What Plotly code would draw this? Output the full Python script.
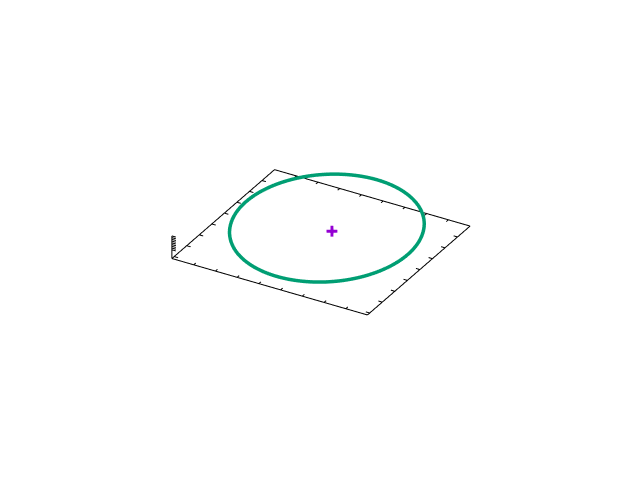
import numpy as np
import plotly.graph_objects as go

# ---- data ----
X_RANGE = [-1.25, 1.0]
Y_RANGE = [-1.045, 1.0]
Z_RANGE = [-0.08, 0.08]
Z_BASE = -0.18
XY_TICK_STEP = 0.25
Z_TICK_STEP = 0.02

CIRCLE_CENTER = [-0.06, -0.018, 0.0]
CIRCLE_RADIUS = 0.97
CIRCLE_TILT = [0.0133, 0.078]   # dz/dx, dz/dy of the circle's plane

POINT_X = [0.012]
POINT_Y = [-0.045]
POINT_Z = [0.0]

GREEN = "#009e73"
PURPLE = "#9400d3"

t = np.linspace(0, 2 * np.pi, 241)
cx = CIRCLE_CENTER[0] + CIRCLE_RADIUS * np.cos(t)
cy = CIRCLE_CENTER[1] + CIRCLE_RADIUS * np.sin(t)
cz = CIRCLE_CENTER[2] + CIRCLE_TILT[0] * (cx - CIRCLE_CENTER[0]) + CIRCLE_TILT[1] * (cy - CIRCLE_CENTER[1])

x0, x1 = X_RANGE
y0, y1 = Y_RANGE
z0, z1 = Z_RANGE

def ticks(a, b, step):
    first = np.ceil(a / step - 1e-9) * step
    return np.arange(first, b + 1e-9, step)

xt = ticks(x0, x1, XY_TICK_STEP)
yt = ticks(y0, y1, XY_TICK_STEP)
zt = ticks(z0, z1, Z_TICK_STEP)
lx = 0.02 * (x1 - x0)
ly = 0.02 * (y1 - y0)

fx, fy, fz = [], [], []
def seg(a, b):
    fx.extend([a[0], b[0], None]); fy.extend([a[1], b[1], None]); fz.extend([a[2], b[2], None])

# base frame
seg((x0, y0, Z_BASE), (x1, y0, Z_BASE))
seg((x1, y0, Z_BASE), (x1, y1, Z_BASE))
seg((x1, y1, Z_BASE), (x0, y1, Z_BASE))
seg((x0, y1, Z_BASE), (x0, y0, Z_BASE))
# z axis line
seg((x0, y0, Z_BASE), (x0, y0, z1))
for v in xt:
    seg((v, y0, Z_BASE), (v, y0 + ly, Z_BASE))
    seg((v, y1, Z_BASE), (v, y1 - ly, Z_BASE))
for v in yt:
    seg((x0, v, Z_BASE), (x0 + lx, v, Z_BASE))
    seg((x1, v, Z_BASE), (x1 - lx, v, Z_BASE))
for v in zt:
    seg((x0, y0, v), (x0 + lx, y0, v))

fig = go.Figure()
fig.add_trace(go.Scatter3d(x=fx, y=fy, z=fz, mode="lines",
                           line=dict(color="black", width=2), hoverinfo="skip"))
fig.add_trace(go.Scatter3d(x=cx, y=cy, z=cz, mode="lines",
                           line=dict(color=GREEN, width=7)))
fig.add_trace(go.Scatter3d(x=POINT_X, y=POINT_Y, z=POINT_Z, mode="text",
                           text=["✚"], textposition="middle center",
                           textfont=dict(family="DejaVu Sans", size=15, color=PURPLE)))

pad = 0.012
ax = dict(visible=False, showgrid=False, zeroline=False, showbackground=False)
f = 0.45
fig.update_layout(
    width=640, height=480,
    margin=dict(l=0, r=0, t=0, b=0),
    paper_bgcolor="white",
    showlegend=False,
    scene=dict(
        domain=dict(x=[0.1403, 0.8372], y=[0.0708, 1]),
        xaxis=dict(range=[x0 - pad, x1 + pad], **ax),
        yaxis=dict(range=[y0 - pad, y1 + pad], **ax),
        zaxis=dict(range=[Z_BASE - pad, z1 + pad], **ax),
        aspectmode="manual",
        aspectratio=dict(x=f * (x1 - x0 + 2 * pad), y=f * (y1 - y0 + 2 * pad),
                         z=f * (z1 - Z_BASE + 2 * pad)),
        camera=dict(projection=dict(type="orthographic"),
                    eye=dict(x=0.433 * 2, y=-0.75 * 2, z=0.5 * 2),
                    up=dict(x=0, y=0, z=1), center=dict(x=0, y=0, z=0)),
    ),
)
fig.write_html("out.html")
